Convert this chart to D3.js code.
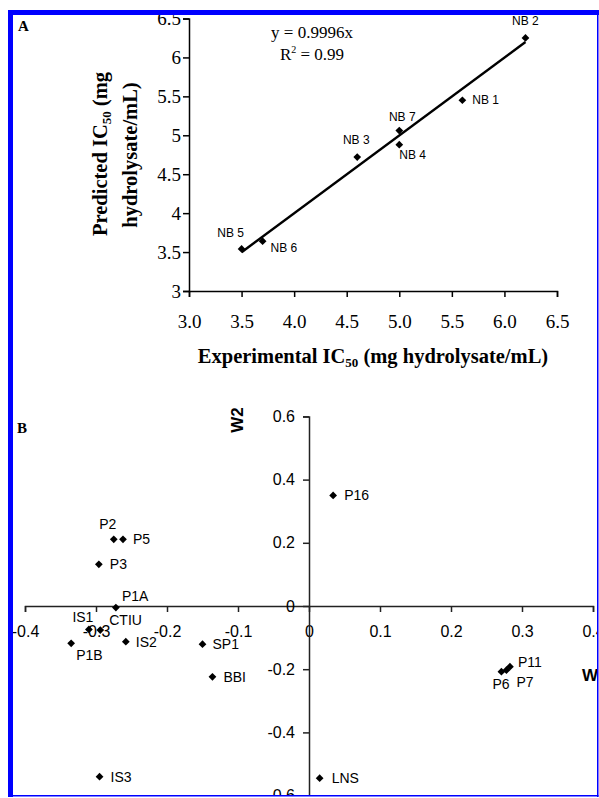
<!DOCTYPE html>
<head>
<meta charset="utf-8">
<title>IC50 prediction and PLS loadings</title>
<style>
  body { margin: 0; background: #fff; }
  svg { display: block; }
  .serif { font-family: "Liberation Serif", "Times New Roman", serif; }
  .sans { font-family: "Liberation Sans", Arial, sans-serif; }
  .axA path, .axA line { stroke: #000; stroke-width: 1.5px; }
  .axB path, .axB line { stroke: #222; stroke-width: 1.5px; }
</style>
</head>
<body>
<script src="https://d3js.org/d3.v7.min.js"></script>
<script>

// panel A : experimental vs predicted IC50
var namesA = ["NB 1", "NB 2", "NB 3", "NB 4", "NB 5", "NB 6", "NB 7"];
var expA   = [5.6, 6.2, 4.6, 5.0, 3.5, 3.7, 5.0];
var predA  = [5.45, 6.25, 4.72, 4.88, 3.54, 3.64, 5.06];
var slopeA = 0.9996;
var ticksAx = [3.0, 3.5, 4.0, 4.5, 5.0, 5.5, 6.0, 6.5];
var ticksAy = [3, 3.5, 4, 4.5, 5, 5.5, 6, 6.5];

// panel B : loadings W1 / W2
var namesB = ["P16", "P2", "P5", "P3", "P1A", "IS1", "CTIU", "IS2", "P1B", "SP1", "BBI", "IS3", "LNS", "P6", "P7", "P11"];
var w1 = [0.034, -0.275, -0.262, -0.296, -0.272, -0.310, -0.294, -0.258, -0.335, -0.150, -0.136, -0.295, 0.015, 0.271, 0.278, 0.283];
var w2 = [0.350, 0.211, 0.211, 0.132, -0.005, -0.074, -0.076, -0.113, -0.118, -0.121, -0.224, -0.540, -0.545, -0.208, -0.203, -0.192];
var ticksBx = [-0.4, -0.3, -0.2, -0.1, 0, 0.1, 0.2, 0.3, 0.4];
var ticksBy = [-0.6, -0.4, -0.2, 0, 0.2, 0.4, 0.6];

// label offsets (dx, dy, anchor)
var offA = {
  "NB 1": [10, 4, "start"], "NB 2": [0, -13, "middle"], "NB 3": [-1, -13, "middle"],
  "NB 4": [0, 14, "start"], "NB 5": [-11, -12, "middle"], "NB 6": [8, 11, "start"],
  "NB 7": [3, -10, "middle"]
};
var offB = {
  "P16": [11, 5, "start"], "P2": [-6, -10, "middle"], "P5": [10, 5, "start"],
  "P3": [11, 5, "start"], "P1A": [6, -7, "start"], "IS1": [-6, -7, "middle"],
  "CTIU": [9, -5, "start"], "IS2": [10, 5, "start"], "P1B": [5, 17, "start"],
  "SP1": [10, 5, "start"], "BBI": [11, 5, "start"], "IS3": [11, 5, "start"],
  "LNS": [12, 5, "start"], "P6": [-9, 17, "start"], "P7": [10, 17, "start"],
  "P11": [8, 0, "start"]
};

var width = 599, height = 798;

var svg = d3.select("body").append("svg")
    .attr("width", width)
    .attr("height", height);

svg.append("defs").append("clipPath").attr("id", "frame")
  .append("rect").attr("x", 13).attr("y", 15).attr("width", 584).attr("height", 780);

var g = svg.append("g").attr("clip-path", "url(#frame)");

var diamond = d3.symbol().type(d3.symbolSquare).size(30);

// ---------- panel A ----------
var xA = d3.scaleLinear().domain([3, 6.5]).range([189, 557]);
var yA = d3.scaleLinear().domain([3, 6.5]).range([291, 18.5]);

g.append("g")
    .attr("class", "axA serif")
    .attr("transform", "translate(0," + yA(3) + ")")
    .call(d3.axisBottom(xA).tickValues(ticksAx).tickSize(6).tickSizeOuter(6)
      .tickFormat(function(d) { return d.toFixed(1); }))
    .call(function(a) {
      a.selectAll("text").attr("font-size", 19).attr("font-family", "Liberation Serif").attr("fill", "#000").attr("y", 37).attr("dy", 0);
    });

g.append("g")
    .attr("class", "axA serif")
    .attr("transform", "translate(" + xA(3) + ",0)")
    .call(d3.axisLeft(yA).tickValues(ticksAy).tickSize(6).tickSizeOuter(6)
      .tickFormat(function(d) { return String(d); }))
    .call(function(a) {
      a.selectAll("text").attr("font-size", 19).attr("font-family", "Liberation Serif").attr("fill", "#000").attr("x", -8);
    });

// trend line through origin
var xMin = d3.min(expA), xMax = d3.max(expA);
g.append("path")
    .datum([xMin, xMax])
    .attr("fill", "none")
    .attr("stroke", "#000")
    .attr("stroke-width", 2.5)
    .attr("d", d3.line().x(function(d) { return xA(d); }).y(function(d) { return yA(slopeA * d); }));

g.append("g").selectAll("path")
    .data(namesA)
  .enter().append("path")
    .attr("d", diamond)
    .attr("fill", "#000")
    .attr("transform", function(d, i) { return "translate(" + xA(expA[i]) + "," + yA(predA[i]) + ")rotate(45)"; });

g.append("g").selectAll("text")
    .data(namesA)
  .enter().append("text")
    .attr("class", "sans")
    .attr("font-size", 12)
    .attr("x", function(d, i) { return xA(expA[i]) + offA[d][0]; })
    .attr("y", function(d, i) { return yA(predA[i]) + offA[d][1]; })
    .attr("text-anchor", function(d) { return offA[d][2]; })
    .text(function(d) { return d; });

g.append("text")
    .attr("class", "serif")
    .attr("font-size", 17)
    .attr("text-anchor", "middle")
    .attr("x", 312).attr("y", 38)
    .text("y = " + slopeA + "x");

var r2 = g.append("text")
    .attr("class", "serif")
    .attr("font-size", 17)
    .attr("text-anchor", "middle")
    .attr("x", 312).attr("y", 60);
r2.append("tspan").text("R");
r2.append("tspan").attr("font-size", 10).attr("dy", -7).text("2");
r2.append("tspan").attr("dy", 7).text(" = 0.99");

// axis titles A
var xt = g.append("text")
    .attr("class", "serif")
    .attr("font-weight", "bold")
    .attr("font-size", 20.5)
    .attr("text-anchor", "middle")
    .attr("x", 373).attr("y", 363);
xt.append("tspan").text("Experimental IC");
xt.append("tspan").attr("font-size", 13).attr("dy", 4).text("50");
xt.append("tspan").attr("dy", -4).text(" (mg hydrolysate/mL)");

var yt1 = g.append("text")
    .attr("class", "serif")
    .attr("font-weight", "bold")
    .attr("font-size", 20.5)
    .attr("text-anchor", "middle")
    .attr("transform", "translate(107,154)rotate(-90)");
yt1.append("tspan").text("Predicted IC");
yt1.append("tspan").attr("font-size", 13).attr("dy", 4).text("50");
yt1.append("tspan").attr("dy", -4).text(" (mg");

g.append("text")
    .attr("class", "serif")
    .attr("font-weight", "bold")
    .attr("font-size", 20.5)
    .attr("text-anchor", "middle")
    .attr("transform", "translate(137,155)rotate(-90)")
    .text("hydrolysate/mL)");

g.append("text")
    .attr("class", "serif")
    .attr("font-weight", "bold")
    .attr("font-size", 15)
    .attr("x", 18).attr("y", 31)
    .text("A");

// ---------- panel B ----------
var xB = d3.scaleLinear().domain([-0.4, 0.4]).range([25, 593]);
var yB = d3.scaleLinear().domain([-0.6, 0.6]).range([795.6, 416.4]);

var fmtB = function(d) { return d === 0 ? "0" : d.toFixed(1); };

g.append("g")
    .attr("class", "axB sans")
    .attr("transform", "translate(0," + yB(0) + ")")
    .call(d3.axisBottom(xB).tickValues(ticksBx).tickSize(6).tickSizeOuter(6).tickFormat(fmtB))
    .call(function(a) {
      a.selectAll("text").attr("font-size", 16).attr("font-family", "Liberation Sans").attr("fill", "#000").attr("y", 31).attr("dy", 0);
    });

g.append("g")
    .attr("class", "axB sans")
    .attr("transform", "translate(" + xB(0) + ",0)")
    .call(d3.axisLeft(yB).tickValues(ticksBy).tickSize(6).tickSizeOuter(6).tickFormat(fmtB))
    .call(function(a) {
      a.selectAll("text").attr("font-size", 16).attr("font-family", "Liberation Sans").attr("fill", "#000").attr("x", -14);
    });

g.append("g").selectAll("path")
    .data(namesB)
  .enter().append("path")
    .attr("d", diamond)
    .attr("fill", "#000")
    .attr("transform", function(d, i) { return "translate(" + xB(w1[i]) + "," + yB(w2[i]) + ")rotate(45)"; });

g.append("g").selectAll("text")
    .data(namesB)
  .enter().append("text")
    .attr("class", "sans")
    .attr("font-size", 14)
    .attr("x", function(d, i) { return xB(w1[i]) + offB[d][0]; })
    .attr("y", function(d, i) { return yB(w2[i]) + offB[d][1]; })
    .attr("text-anchor", function(d) { return offB[d][2]; })
    .text(function(d) { return d; });

g.append("text")
    .attr("class", "sans")
    .attr("font-weight", "bold")
    .attr("font-size", 17)
    .attr("x", 582).attr("y", 681)
    .text("W1");

g.append("text")
    .attr("class", "sans")
    .attr("font-weight", "bold")
    .attr("font-size", 17)
    .attr("text-anchor", "middle")
    .attr("transform", "translate(243,420)rotate(-90)")
    .text("W2");

g.append("text")
    .attr("class", "serif")
    .attr("font-weight", "bold")
    .attr("font-size", 15)
    .attr("x", 17).attr("y", 433)
    .text("B");

// ---------- blue frame ----------
var frame = svg.append("g").attr("fill", "#0000ff");
frame.append("rect").attr("x", 8).attr("y", 10).attr("width", 591).attr("height", 5);
frame.append("rect").attr("x", 8).attr("y", 10).attr("width", 5).attr("height", 787);
frame.append("rect").attr("x", 597).attr("y", 10).attr("width", 1.5).attr("height", 787);
frame.append("rect").attr("x", 8).attr("y", 795).attr("width", 590.5).attr("height", 1.5);

</script>
</body>
